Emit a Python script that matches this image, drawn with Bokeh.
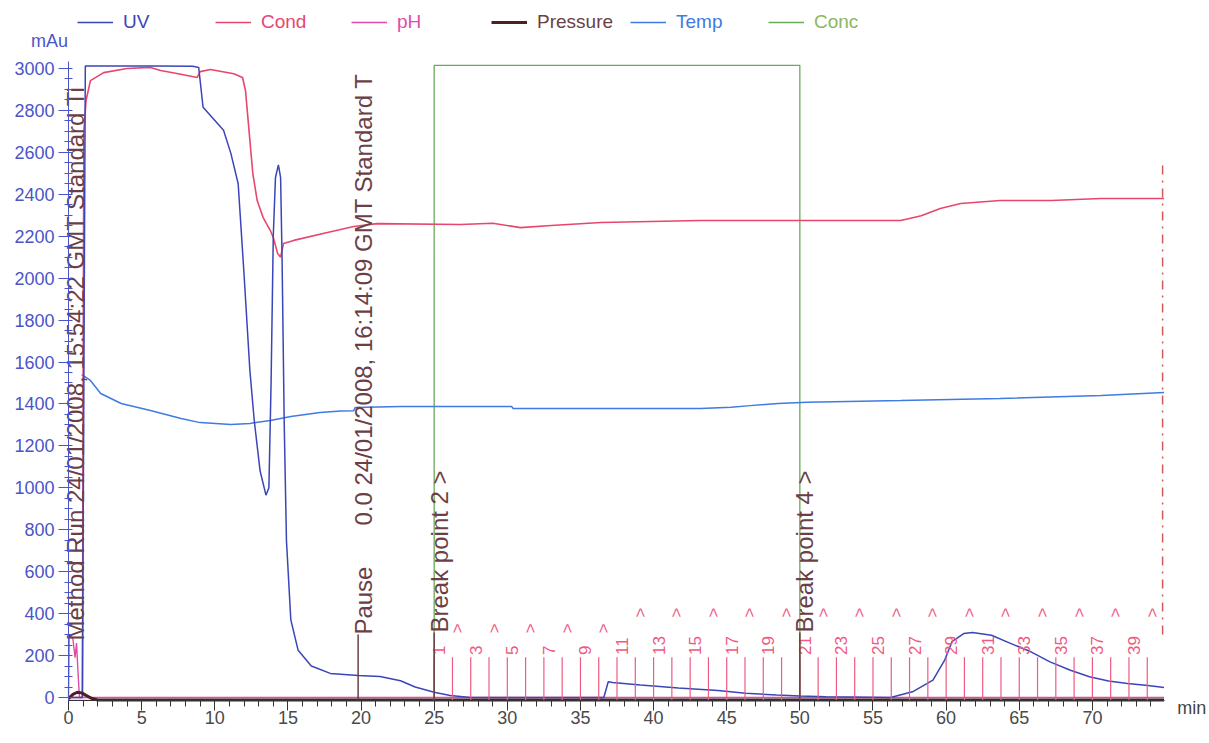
import numpy as np
from bokeh.plotting import figure
from bokeh.models import Range1d, Legend, LegendItem, Label, SingleIntervalTicker
from bokeh.core.properties import value
from bokeh.embed import file_html
from bokeh.resources import INLINE

FONT = "Liberation Sans"

# ---------------- data ----------------
uv_t = [0, 0.95, 1.15, 3, 6, 8.5, 8.9, 9.2, 9.9, 10.6, 11.1, 11.6, 12.0, 12.4, 12.7, 13.1, 13.5, 13.7, 13.85, 14.0,
        14.15, 14.35, 14.5, 14.6, 14.75, 14.9, 15.2, 15.7, 16.6, 17.9, 19.8, 21.3, 22.7, 23.7, 25.0, 26.1, 27.5,
        36.6, 36.9, 37.2, 39.1, 41.7, 44.4, 46.3, 48.4, 50.0, 51.8, 56.2, 57.7, 59.1, 59.9, 60.4, 61.2, 61.8,
        63.1, 64.4, 65.8, 67.1, 68.5, 69.8, 71.1, 72.4, 73.8, 74.9]
uv_v = [0, 0, 3012, 3012, 3012, 3010, 3005, 2815, 2760, 2705, 2595, 2450, 2020, 1560, 1320, 1080, 965, 1000, 1500, 2200,
        2480, 2540, 2480, 2100, 1300, 750, 370, 225, 150, 115, 105, 100, 80, 50, 25, 10, 0,
        0, 75, 72, 60, 45, 33, 20, 12, 7, 3, 0, 27, 83, 178, 266, 305, 310,
        297, 258, 218, 170, 130, 99, 79, 67, 57, 48]

cond_t = [0, 0.95, 1.0, 1.05, 1.2, 1.5, 2.4, 4.0, 5.6, 6.3, 7.5, 8.8, 9.0, 9.7, 11.3, 11.9, 12.1, 12.3, 12.6, 12.9,
          13.3, 13.8, 14.0, 14.3, 14.5, 14.7, 15.4, 17.7, 19.5, 21.1, 26.8, 29, 30.9, 33, 36.4, 43.2, 50, 56.9,
          58.3, 59.6, 61, 63.7, 67.2, 70.6, 74.9]
cond_v = [0, 0, 1500, 2700, 2847, 2942, 2980, 3000, 3005, 2990, 2975, 2957, 2985, 2995, 2975, 2957, 2895, 2737, 2500, 2370,
          2290, 2227, 2194, 2117, 2100, 2165, 2180, 2218, 2246, 2260, 2256, 2262, 2241, 2251, 2265, 2275, 2275, 2275,
          2298, 2332, 2356, 2370, 2370, 2380, 2380]

ph_t = [0, 0.05, 0.3, 0.45, 0.55, 0.65, 0.75, 74.9]
ph_v = [0, 300, 280, 190, 260, 120, 0, 0]

pressure_t = [0, 0.3, 0.6, 0.9, 1.2, 1.6, 2.0, 10, 20, 30, 40, 50, 60, 70, 74.9]
pressure_v = [-5, 15, 25, 22, 10, -5, -12, -12, -12, -12, -12, -12, -12, -12, -12]

temp_t = [0.9, 1.5, 2.2, 3.6, 5.6, 7.7, 9.0, 11.1, 12.4, 13.8, 15.2, 17.2, 18.6, 19.5, 19.6, 22.7, 25, 30.3, 30.4,
          36.4, 43.2, 45.3, 46.6, 48.5, 50.5, 56.9, 63.7, 70.6, 74.9]
temp_v = [1540, 1512, 1450, 1402, 1369, 1331, 1311, 1302, 1307, 1321, 1340, 1359, 1366, 1368, 1383, 1388, 1388, 1388,
          1378, 1378, 1378, 1384, 1392, 1402, 1408, 1416, 1426, 1440, 1455]

conc_t = [0, 25, 25, 50, 50, 74.9]
conc_v = [0, 0, 100, 100, 0, 0]          # %B

# fraction boundaries (min) and fraction numbers
frac_x = [25.0, 26.25, 27.5, 28.75, 30.0, 31.25, 32.5, 33.75, 35.0, 36.25,
          37.5, 38.75, 40.0, 41.25, 42.5, 43.75, 45.0, 46.25, 47.5, 48.75,
          50.0, 51.25, 52.5, 53.75, 55.0, 56.25, 57.5, 58.75, 60.0, 61.25,
          62.5, 63.75, 65.0, 66.25, 67.5, 68.75, 70.0, 71.25, 72.5, 73.75]
frac_no = list(range(1, 41))

# log events
event_t = [19.8, 25.0, 50.0]
event_text = ["Pause", "Break point 2 >", "Break point 4 >"]
note_t = [0.0, 19.8]
note_text = ["Method Run 24/01/2008, 15:54:22 GMT Standard Ti",
             "0.0 24/01/2008, 16:14:09 GMT Standard T"]
end_t = [74.8]

# ---------------- colours ----------------
C_UV = "#3a46b8"
C_COND = "#e8466e"
C_PH = "#e04aa8"
C_PRES = "#4a2024"
C_TEMP = "#3f7be0"
C_CONC = "#6aaa5a"
C_EVT = "#6b3f45"
C_FRAC = "#ef5a82"
C_AX = "#4b55c8"

W, H = 1209, 739
PX_X = 14.627      # px per minute
PX_Y = 0.20968     # px per mAu
X0, Y0 = 68, 697   # page position of (0, 0)

p = figure(width=W, height=H,
           x_range=Range1d(-X0 / PX_X, (W - X0) / PX_X),
           y_range=Range1d((Y0 - H) / PX_Y, Y0 / PX_Y),
           output_backend="svg", toolbar_location=None,
           min_border_left=0, min_border_right=0, min_border_top=0, min_border_bottom=0)
p.outline_line_color = None
p.xgrid.visible = False
p.ygrid.visible = False
p.background_fill_color = "white"
p.border_fill_color = "white"
p.extra_y_ranges = {"conc": Range1d(((Y0 - H) / PX_Y + 14) / 30.29, (Y0 / PX_Y + 14) / 30.29)}

# axes (drawn at fixed data locations)
p.xaxis.ticker = SingleIntervalTicker(interval=5, num_minor_ticks=5)
p.yaxis.ticker = SingleIntervalTicker(interval=200, num_minor_ticks=4)
ax = p.xaxis[0]
ay = p.yaxis[0]
ax.fixed_location = -14
ax.bounds = (0, 74.95)
ay.fixed_location = 0
ay.bounds = (-14, 3034)
for a in (ax, ay):
    a.major_label_text_font = FONT
    a.major_label_text_font_size = "18px"
    a.major_tick_in = 0
    a.major_tick_out = 10
ax.axis_line_color = "#333333"
ax.major_tick_line_color = "#333333"
ax.minor_tick_line_color = "#333333"
ax.major_label_text_color = "#4a4a4a"
ax.minor_tick_in = 0
ax.minor_tick_out = 6
ax.major_label_standoff = 1
ay.axis_line_color = C_AX
ay.major_tick_line_color = C_AX
ay.minor_tick_line_color = C_AX
ay.major_label_text_color = C_AX
ay.minor_tick_in = 4
ay.minor_tick_out = 4
ay.major_label_standoff = 4

# curves
r_conc = p.line(conc_t, conc_v, color=C_CONC, line_width=1.3, y_range_name="conc")
r_temp = p.line(temp_t, temp_v, color=C_TEMP, line_width=1.5)
r_cond = p.line(cond_t, cond_v, color=C_COND, line_width=1.6)
r_ph = p.line(ph_t, ph_v, color=C_PH, line_width=1.4)
r_uv = p.line(uv_t, uv_v, color=C_UV, line_width=1.5)
r_pres = p.line(pressure_t, pressure_v, color=C_PRES, line_width=3)

# fractions
p.segment(x0=frac_x, y0=[-14] * len(frac_x), x1=frac_x, y1=[192] * len(frac_x),
          color=C_FRAC, line_width=1.2)
odd_x = [x for x, n in zip(frac_x, frac_no) if n % 2 == 1]
odd_lab = [str(n) for n in frac_no if n % 2 == 1]
p.text(x=odd_x, y=[203] * len(odd_x), text=odd_lab, angle=np.pi / 2, x_offset=5,
       text_align="left", text_baseline="middle", text_font=value(FONT),
       text_font_size="17px", text_color=C_FRAC)
even_x = [x for x, n in zip(frac_x, frac_no) if n % 2 == 0]
even_y = [330 if n <= 10 else 405 for n in frac_no if n % 2 == 0]
p.text(x=even_x, y=even_y, text=[">"] * len(even_x), angle=np.pi / 2, x_offset=5,
       text_align="center", text_baseline="middle", text_font=value(FONT),
       text_font_size="17px", text_color=C_FRAC)

# end-of-run dash-dot marker
p.segment(x0=end_t, y0=[300], x1=end_t, y1=[2560], color="#d05a5a", line_width=1.5,
          line_dash="9 6 2 6")

# events
evt_top = [300, 310, 310]
p.segment(x0=event_t, y0=[-14] * 3, x1=event_t, y1=evt_top, color=C_EVT, line_width=1.5)
p.text(x=event_t, y=evt_top, text=event_text, angle=np.pi / 2, x_offset=5,
       text_align="left", text_baseline="middle", text_font=value(FONT),
       text_font_size="24px", text_color=C_EVT)
p.text(x=note_t, y=[272, 820], text=note_text, angle=np.pi / 2, x_offset=[7, 5],
       text_align="left", text_baseline="middle", text_font=value(FONT),
       text_font_size="24px", text_color=C_EVT)

# legends (one per series so each text has its own colour)
legend_spec = [("UV", r_uv, C_UV, 77), ("Cond", r_cond, C_COND, 215), ("pH", r_ph, C_PH, 351),
               ("Pressure", r_pres, C_EVT, 491), ("Temp", r_temp, C_TEMP, 630), ("Conc", r_conc, "#8ab860", 768)]
for lab, r, col, vx in legend_spec:
    lg = Legend(items=[LegendItem(label=lab, renderers=[r])], location=(vx, H - 33),
                orientation="horizontal", glyph_width=36, glyph_height=20, label_standoff=10,
                padding=0, margin=0, border_line_color=None, background_fill_alpha=0,
                label_text_font=FONT, label_text_font_size="19px", label_text_color=col)
    p.add_layout(lg)

p.add_layout(Label(x=-1.3, y=3133, text="mAu", text_align="center", text_baseline="middle",
                   text_font=FONT, text_font_size="18px", text_color=C_AX))
p.add_layout(Label(x=76.8, y=-52, text="min", text_align="center", text_baseline="middle",
                   text_font=FONT, text_font_size="18px", text_color="#444444"))

open("out.html", "w").write(file_html(p, INLINE))
